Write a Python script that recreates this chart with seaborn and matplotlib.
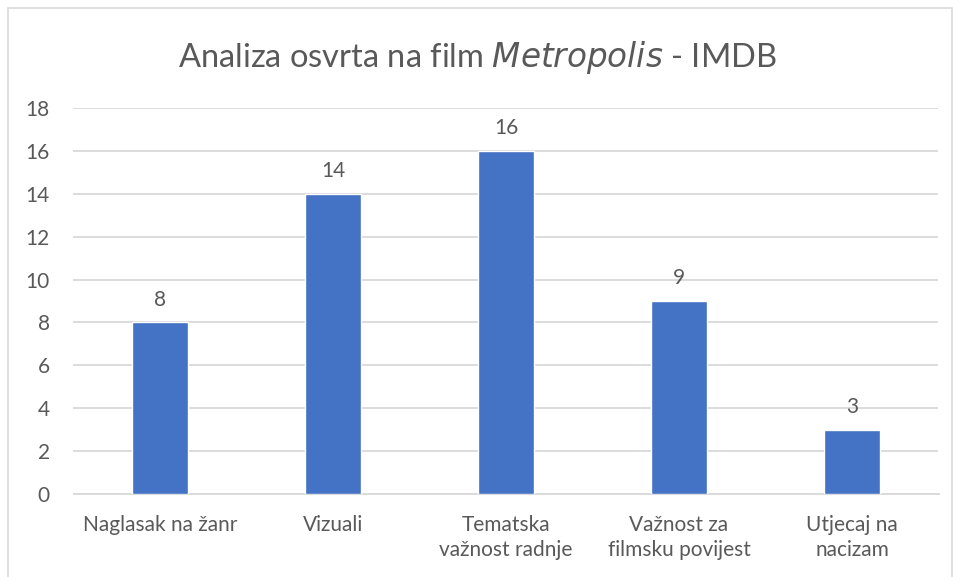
import matplotlib
matplotlib.use("Agg")
import matplotlib.pyplot as plt
import seaborn as sns
import pandas as pd
from matplotlib.patches import Rectangle

categories = ["Naglasak na žanr", "Vizuali", "Tematska\nvažnost radnje",
              "Važnost za\nfilmsku povijest", "Utjecaj na\nnacizam"]
values = [8, 14, 16, 9, 3]
yticks = [0, 2, 4, 6, 8, 10, 12, 14, 16, 18]

sns.set_theme(style="white")
plt.rcParams['font.family'] = ['Lato', 'DejaVu Sans']
txt = "#595959"

df = pd.DataFrame({"cat": categories, "val": values})

fig = plt.figure(figsize=(9.54, 5.77), dpi=100)
ax = fig.add_axes([73.5/954, 1-494/577, (938.5-73.5)/954, (494-108)/577])
sns.barplot(data=df, x="cat", y="val", color="#4472C4", width=0.32,
            saturation=1, ax=ax, zorder=3)

ax.set_ylim(0, 18)
ax.set_yticks(yticks)
ax.yaxis.grid(True, color="#D9D9D9", linewidth=1.3, zorder=0)
ax.set_axisbelow(True)
for s in ["top", "right", "left"]:
    ax.spines[s].set_visible(False)
ax.spines["bottom"].set_color("#D9D9D9")
ax.spines["bottom"].set_linewidth(1.3)
ax.set_xlabel("")
ax.set_ylabel("")
ax.tick_params(axis="both", length=0, labelsize=15, colors=txt)
ax.tick_params(axis="y", pad=17)
ax.tick_params(axis="x", pad=15)
for lbl in ax.get_xticklabels():
    lbl.set_linespacing(1.3)
    lbl.set_verticalalignment("top")

for c in ax.containers:
    ax.bar_label(c, labels=[str(v) for v in values], padding=9,
                 fontsize=15, color=txt)

fig.text(0.5, 1-58/577, r"Analiza osvrta na film $\it{Metropolis}$ - IMDB",
         ha="center", va="center", fontsize=23.5, color=txt)

fig.patches.append(Rectangle((8/954, -0.01), (952-8)/954, 1-8/577+0.01,
                             transform=fig.transFigure, fill=False,
                             edgecolor="#D9D9D9", linewidth=1.2))

fig.savefig("out.png", dpi=100)
